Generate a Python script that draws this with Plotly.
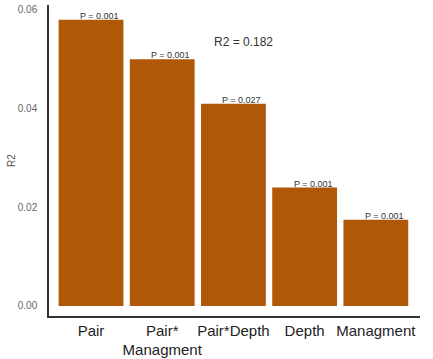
import plotly.graph_objects as go

# Variance partitioning: R2 explained by each term, with permutation p-values
terms = ["Pair", "Pair*<br>Managment", "Pair*Depth", "Depth", "Managment"]
r2_values = [0.058, 0.050, 0.041, 0.024, 0.0175]
p_labels = ["P = 0.001", "P = 0.001", "P = 0.027", "P = 0.001", "P = 0.001"]
total_label = "R2 = 0.182"
y_ticks = [0.00, 0.02, 0.04, 0.06]

bar_color = "#AF5807"

fig = go.Figure()
fig.add_trace(go.Bar(
    x=terms,
    y=r2_values,
    marker=dict(color=bar_color, line=dict(width=0)),
    width=0.91,
    showlegend=False,
))

for term, val, lab in zip(terms, r2_values, p_labels):
    fig.add_annotation(
        x=term, y=val, text=lab, showarrow=False,
        xanchor="right", yanchor="bottom", xshift=30, yshift=-3,
        font=dict(family="Arial, Liberation Sans", size=9, color="#333333"),
    )

fig.add_annotation(
    x=0.44, xref="paper", y=0.0535, text=total_label, showarrow=False,
    xanchor="left", yanchor="middle",
    font=dict(family="Arial, Liberation Sans", size=12, color="#333333"),
)

fig.update_layout(
    width=433, height=359,
    margin=dict(l=49, r=13, t=5, b=43),
    paper_bgcolor="white", plot_bgcolor="white",
    bargap=0.09,
)
fig.update_xaxes(
    range=[-0.59, 4.62], automargin=False, tickangle=0,
    showline=True, linecolor="#333333", linewidth=1.5,
    ticks="", showgrid=False, zeroline=False,
    tickfont=dict(family="Arial, Liberation Sans", size=15, color="#222222"),
)
fig.update_yaxes(
    range=[-0.00203, 0.0610], automargin=True,
    tickvals=y_ticks, ticktext=[f"{v:.2f}" for v in y_ticks],
    showline=True, linecolor="#333333", linewidth=1.5,
    ticks="", ticklabelstandoff=8, showgrid=False, zeroline=False,
    tickfont=dict(family="Arial, Liberation Sans", size=10, color="#666666"),
    title=dict(text="R2", font=dict(family="Arial, Liberation Sans", size=10, color="#555555"), standoff=0),
)

fig.write_html("out.html")
